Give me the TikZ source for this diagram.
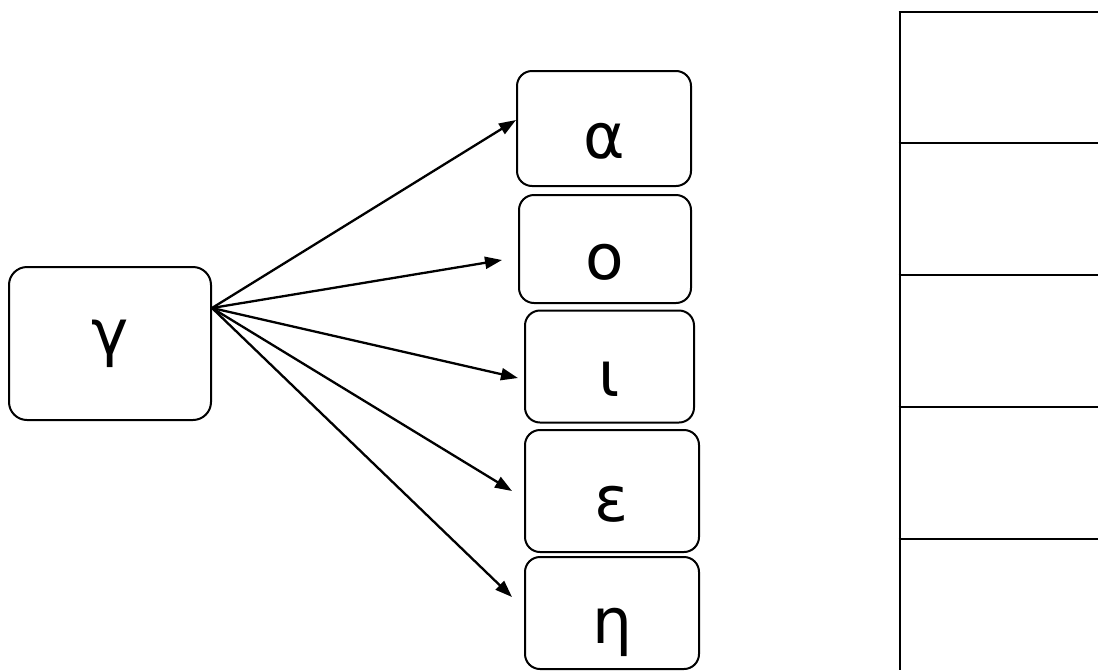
\documentclass[tikz,border=0pt]{standalone}
\usepackage{fontspec}
\setmainfont{DejaVu Sans}
\usepackage{tikz}
\usetikzlibrary{arrows.meta,positioning,calc}

\tikzset{
  letterbox/.style={draw,line width=2pt,rounded corners=15pt,inner sep=0pt,
    font=\fontsize{63}{63}\selectfont,text height=60pt,text depth=0pt},
  arr/.style={line width=2.3pt,-{Triangle[length=17pt,width=12pt]}},
}

\begin{document}
\begin{tikzpicture}[x=1pt,y=-1pt]
  \useasboundingbox (0,0) rectangle (1098,670);

  % source box
  \node[draw,line width=2pt,rounded corners=18pt,minimum width=202pt,minimum height=153pt,
    font=\fontsize{63}{63}\selectfont] (g) at (110,343.5) {γ};

  % target boxes
  \node[letterbox,minimum width=174pt,minimum height=115pt] (a) at (604,128.5) {α};
  \node[letterbox,minimum width=172pt,minimum height=108pt] (o) at (605,249) {ο};
  \node[letterbox,minimum width=169pt,minimum height=112pt] (i) at (609.5,366.5) {ι};
  \node[letterbox,minimum width=174pt,minimum height=122pt] (e) at (612,491) {ε};
  \node[letterbox,minimum width=174pt,minimum height=112pt] (h) at (612,613) {η};

  % arrows
  \coordinate (gout) at ([yshift=35.5pt]g.east);
  \foreach \n/\dx/\dy in {a/0/8.5, o/-16/-11, i/-6/-11.5, e/-12/0, h/-12/16}{
    \draw[arr] (gout) -- ([xshift=\dx pt,yshift=\dy pt]\n.west);
  }

  % table on the right
  \draw[line width=2.6pt] (900,12) -- (900,670);
  \foreach \y in {12,143,275,407,539}{
    \draw[line width=2.6pt] (898.7,\y) -- (1098,\y);
  }

\end{tikzpicture}
\end{document}
